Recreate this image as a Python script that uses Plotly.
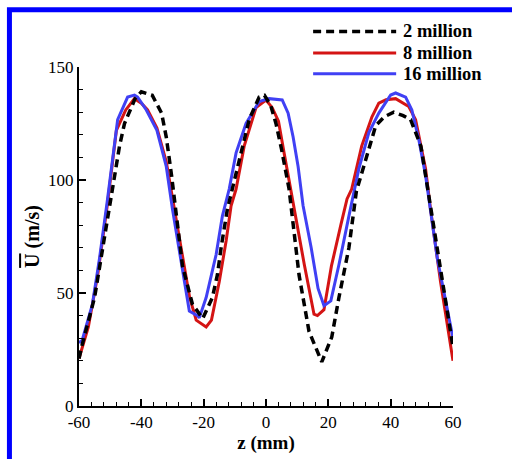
import plotly.graph_objects as go

# ---- data ----
z_2m = [-60, -59, -55, -52.4, -50, -47, -45.4, -42, -40, -36.5, -33.5, -32, -30.3, -26.8, -23.6,
        -20.3, -17.2, -15.6, -14.3, -12.4, -8, -5.4, -2.2, -0.5, 1.5, 3.2, 5, 7.4, 10.6, 13.8,
        17.9, 21.1, 23.4, 26.6, 29, 32, 35.2, 38, 41, 44, 46.4, 49.7, 52.2, 56, 60]
u_2m = [21, 27, 48, 70, 89, 115, 125, 136, 139, 137.5, 129.6, 119, 102, 62, 45,
        38.7, 48, 58, 71, 87, 112, 126.7, 136.7, 137.5, 133, 125, 113.5, 96, 58, 33,
        19.5, 30.5, 48, 70, 95, 109, 124, 128, 130, 128.5, 126.7, 115, 93, 60, 26]

z_8m = [-60, -57, -54, -51, -48, -45, -42.2, -40, -38, -35, -32, -30, -27, -24.5, -22.4,
        -19.2, -17.5, -15, -12.8, -11.2, -9.6, -7, -3.2, 0, 2, 4, 5.8, 9, 12.3, 15.4,
        16.5, 18.6, 21, 24, 26, 27.5, 30.7, 34, 36.2, 38.5, 41.6, 45.8, 48, 51.2, 52.8, 56, 60]
u_8m = [21, 35, 58, 88, 122, 131, 136, 134, 131, 123, 108, 92, 68, 48, 38,
        35, 38, 55, 73, 88.6, 96, 115, 132, 135.4, 132, 126, 112, 87, 62.5, 40.6,
        40, 42.6, 62, 80, 91.6, 96, 115, 128, 134, 135.5, 136, 132.5, 126.7, 105, 87, 55, 20]

z_16m = [-60, -59, -55.7, -53.4, -51, -47.6, -44.4, -42.2, -41.2, -38.4, -35, -32, -30, -27,
         -24.6, -22, -21.4, -19.2, -16, -14, -11.8, -9.6, -6.4, -2.2, 1, 5.2, 7.1, 8.7, 10.3, 11.9,
         12.6, 14.5, 16.7, 18.6, 20.8, 23.4, 26.6, 29.8, 33, 36.2, 40, 41.6, 44.8, 46.8, 49, 51.2, 55, 60]
u_16m = [28, 29, 45, 65.5, 90, 126.7, 136.7, 137.6, 136.7, 131, 122, 106, 87, 62,
         42, 40, 39, 48, 67, 84, 96, 112, 125, 134.7, 136, 135.4, 129.6, 119, 106, 88.6,
         84, 70, 52, 44.4, 46.5, 62.5, 84, 105, 121, 129.6, 137.6, 138.5, 136.7, 131, 118, 102, 65, 30]

series_names = ["2 million", "8 million", "16 million"]
x_ticks = [-60, -40, -20, 0, 20, 40, 60]
y_ticks = [0, 50, 100, 150]

FONT = "Times New Roman, Liberation Serif, serif"
C_BLACK = "#000000"
C_RED = "#d41414"
C_BLUE = "#4040f4"

fig = go.Figure()
fig.add_trace(go.Scatter(x=z_8m, y=u_8m, mode="lines", name=series_names[1],
                         line=dict(color=C_RED, width=3)))
fig.add_trace(go.Scatter(x=z_16m, y=u_16m, mode="lines", name=series_names[2],
                         line=dict(color=C_BLUE, width=3)))
fig.add_trace(go.Scatter(x=z_2m, y=u_2m, mode="lines", name=series_names[0],
                         line=dict(color=C_BLACK, width=3.5, dash="8px,5px")))

axis_common = dict(
    showline=True, linecolor="black", linewidth=2, mirror=False,
    ticks="inside", ticklen=7, tickwidth=2, tickcolor="black",
    showgrid=False, zeroline=False,
    tickfont=dict(family=FONT, size=17, color="black"),
)

fig.update_xaxes(range=[-60, 60], tickvals=x_ticks, ticktext=[str(v) for v in x_ticks],
                 minor=dict(dtick=4, ticks="inside", ticklen=4, tickwidth=1, tickcolor="black", showgrid=False),
                 title=dict(text="<b>z (mm)</b>", font=dict(family=FONT, size=19, color="black"), standoff=1),
                 **axis_common)
fig.update_yaxes(range=[0, 150], tickvals=y_ticks, ticktext=[str(v) for v in y_ticks],
                 minor=dict(dtick=10, ticks="inside", ticklen=4, tickwidth=1, tickcolor="black", showgrid=False),
                 title=dict(text='<b><span style="text-decoration:overline">U</span> (m/s)</b>',
                            font=dict(family=FONT, size=20, color="black"), standoff=3),
                 **axis_common)

# manual legend (layout decoration)
legend_rows = [(series_names[0], C_BLACK, "dash", 3.5, 1.105),
               (series_names[1], C_RED, "solid", 3, 1.041),
               (series_names[2], C_BLUE, "solid", 3, 0.980)]
shapes = []
annotations = []
for name, col, dash, w, yp in legend_rows:
    shapes.append(dict(type="line", xref="paper", yref="paper", x0=0.626, x1=0.848, y0=yp, y1=yp,
                       line=dict(color=col, width=w, dash="8px,5px" if dash == "dash" else "solid")))
    annotations.append(dict(xref="paper", yref="paper", x=0.862, y=yp, xanchor="left", yanchor="middle",
                            text="<b>" + name + "</b>", showarrow=False,
                            font=dict(family=FONT, size=18.5, color="black")))

# blue frame around figure
shapes.append(dict(type="rect", xref="paper", yref="paper", x0=-0.186, x1=1.4, y0=-0.4, y1=1.169,
                   line=dict(color="#0000ff", width=5), fillcolor="rgba(0,0,0,0)", layer="above"))

fig.update_layout(
    width=512, height=459,
    margin=dict(l=79, r=59, t=67, b=49),
    paper_bgcolor="white", plot_bgcolor="white",
    showlegend=False,
    shapes=shapes, annotations=annotations,
    font=dict(family=FONT, color="black"),
)

fig.write_html("out.html")
